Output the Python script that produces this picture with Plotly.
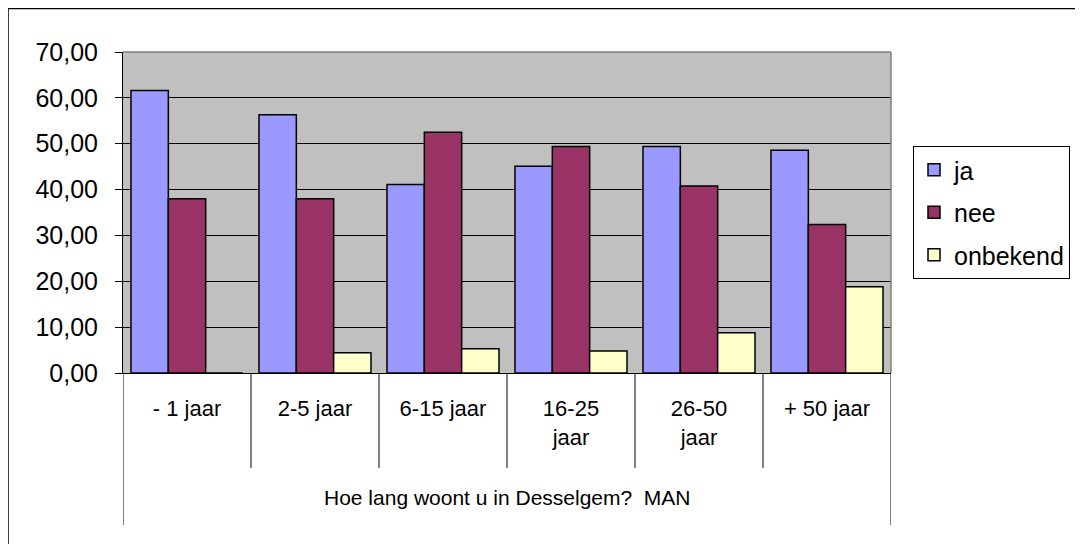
import plotly.graph_objects as go

categories = ["- 1 jaar", "2-5 jaar", "6-15 jaar", "16-25<br>jaar", "26-50<br>jaar", "+ 50 jaar"]
ja = [61.6, 56.3, 41.1, 45.1, 49.4, 48.6]
nee = [38.0, 38.0, 52.5, 49.4, 40.8, 32.4]
onbekend = [0.0, 4.4, 5.3, 4.8, 8.8, 18.8]
series_names = ["ja", "nee", "onbekend"]
series_colors = ["#9999FF", "#993366", "#FFFFCC"]
axis_title = "Hoe lang woont u in Desselgem?\u00a0 MAN"

# page body has an 8px margin; figure is placed at (8, 8)
OFF = 8
W, H = 1083 - OFF, 544 - OFF
L, R, T, B = 123 - OFF, 1083 - 891, 52 - OFF, 544 - 373
PW, PH = W - L - R, H - T - B

def px_x(p):
    return (p - OFF - L) / PW

def px_y(p):
    return (H - B - (p - OFF)) / PH

fig = go.Figure()
for name, vals, col in zip(series_names, [ja, nee, onbekend], series_colors):
    fig.add_trace(go.Bar(
        x=list(range(len(categories))), y=vals, name=name,
        marker=dict(color=col, line=dict(color="black", width=1.5)),
        legendgroup=name,
    ))

shapes = []
for i in range(1, len(categories)):
    shapes.append(dict(type="line", xref="x", yref="paper", x0=i - 0.5, x1=i - 0.5,
                       y0=0, y1=px_y(468), line=dict(color="black", width=1)))
for xv in [-0.5, len(categories) - 0.5]:
    shapes.append(dict(type="line", xref="x", yref="paper", x0=xv, x1=xv,
                       y0=0, y1=px_y(525), line=dict(color="black", width=1)))
shapes.append(dict(type="line", xref="paper", yref="paper", x0=0, x1=1, y0=1, y1=1,
                   line=dict(color="#808080", width=1.5)))
shapes.append(dict(type="line", xref="paper", yref="paper", x0=1, x1=1, y0=0, y1=1,
                   line=dict(color="#808080", width=1.5)))
shapes.append(dict(type="rect", xref="paper", yref="paper", x0=px_x(8), x1=px_x(1090),
                   y0=px_y(8.5), y1=px_y(560), line=dict(color="black", width=1.5),
                   fillcolor="rgba(0,0,0,0)", layer="below"))

cat_font = "Liberation Sans Narrow, Arial Narrow, Liberation Sans, sans-serif"

fig.update_layout(
    width=W, height=H,
    margin=dict(l=L, r=R, t=T, b=B, autoexpand=False),
    paper_bgcolor="white", plot_bgcolor="#C0C0C0",
    barmode="group", bargap=0.125, bargroupgap=0,
    separators=",.",
    font=dict(family="Liberation Sans, Arial, sans-serif", color="black"),
    showlegend=True,
    legend=dict(x=px_x(913), y=px_y(146), xanchor="left", yanchor="top",
                bordercolor="black", borderwidth=1, bgcolor="white",
                font=dict(size=25, family="Liberation Sans, Arial, sans-serif"),
                tracegroupgap=7, itemwidth=30),
    shapes=shapes,
    annotations=[dict(text=axis_title, xref="paper", yref="paper", x=0.5, y=px_y(497),
                      xanchor="center", yanchor="middle", showarrow=False,
                      font=dict(size=21, family=cat_font))],
)
fig.update_xaxes(
    tickmode="array", tickvals=list(range(len(categories))), ticktext=categories,
    range=[-0.5, len(categories) - 0.5],
    showline=True, linecolor="black", linewidth=1,
    ticks="", ticklabelstandoff=16, showgrid=False, zeroline=False,
    tickfont=dict(size=22, family=cat_font),
)
fig.update_yaxes(
    range=[0, 70], dtick=10, tick0=0, tickformat=".2f",
    showline=True, linecolor="black", linewidth=1,
    ticks="outside", ticklen=7, tickcolor="black", ticklabelstandoff=12,
    showgrid=True, gridcolor="black", gridwidth=1, zeroline=False,
    tickfont=dict(size=25),
)
fig.write_html("out.html")
